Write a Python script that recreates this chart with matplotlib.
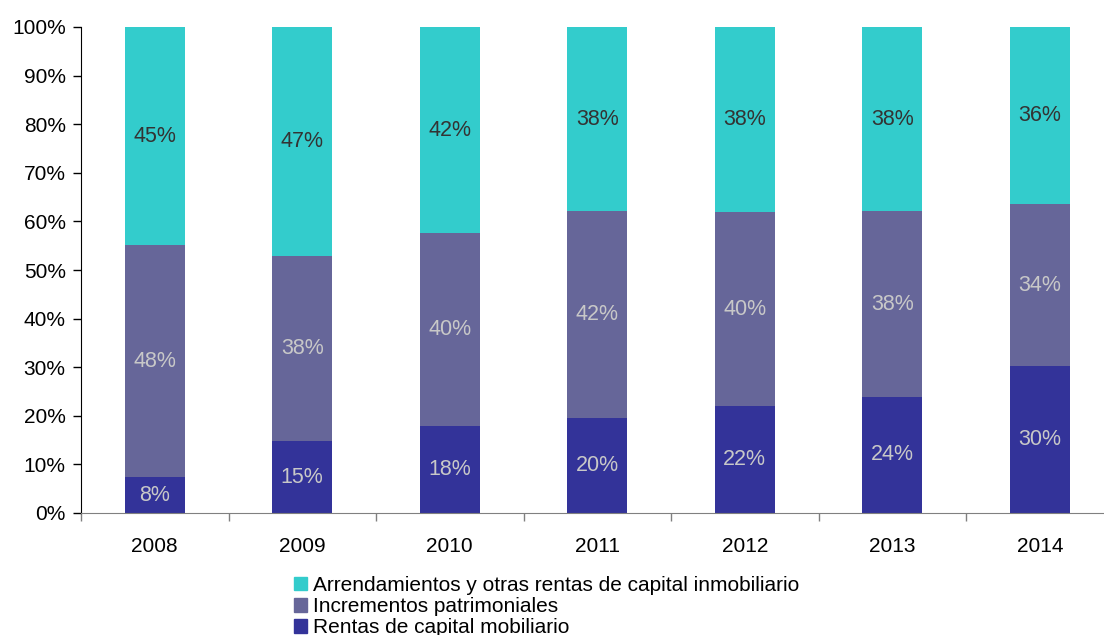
import numpy as np
import matplotlib.pyplot as plt
from matplotlib.patches import Patch
from matplotlib.ticker import PercentFormatter

plt.rcParams['font.family'] = ['Liberation Sans', 'DejaVu Sans']

# === Data (shares in %) ===
years = ['2008', '2009', '2010', '2011', '2012', '2013', '2014']
rentas_mobiliario = [7.4, 14.8, 17.9, 19.5, 22.0, 23.9, 30.2]
incrementos = [47.7, 38.1, 39.7, 42.6, 39.9, 38.2, 33.4]
arrendamientos = [44.9, 47.1, 42.4, 37.9, 38.1, 37.9, 36.4]

lbl_mobiliario = ['8%', '15%', '18%', '20%', '22%', '24%', '30%']
lbl_incrementos = ['48%', '38%', '40%', '42%', '40%', '38%', '34%']
lbl_arrend = ['45%', '47%', '42%', '38%', '38%', '38%', '36%']

series = [
    ('Rentas de capital mobiliario', rentas_mobiliario, lbl_mobiliario, '#333399', '#c8c8c8'),
    ('Incrementos patrimoniales', incrementos, lbl_incrementos, '#666699', '#c8c8c8'),
    ('Arrendamientos y otras rentas de capital inmobiliario', arrendamientos, lbl_arrend, '#33cccc', '#333333'),
]

# === Plot ===
fig = plt.figure(figsize=(11.04, 6.35), dpi=100)
# plot area runs a little past the right edge of the picture, as in the original
ax = fig.add_axes([81 / 1104, 1 - 513 / 635, 7 * 147.5 / 1104, (513 - 27) / 635])

x = np.arange(len(years))
bottom = np.zeros(len(years))
for name, vals, lbls, color, tcolor in series:
    vals = np.array(vals)
    ax.bar(x, vals, bottom=bottom, width=0.41, color=color, label=name)
    for xi, b, v, t in zip(x, bottom, vals, lbls):
        ax.text(xi, b + v / 2, t, ha='center', va='center', fontsize=15.5, color=tcolor)
    bottom += vals

# === Styling ===
ax.set_xlim(-0.5, len(years) - 0.5)
ax.set_ylim(0, 100)
ax.set_yticks(range(0, 101, 10))
ax.yaxis.set_major_formatter(PercentFormatter(decimals=0))
ax.tick_params(axis='y', labelsize=15, length=6, width=1, pad=5, colors='black')

ax.set_xticks(x)
ax.set_xticklabels(years)
ax.set_xticks(np.arange(-0.5, len(years), 1), minor=True)
ax.tick_params(axis='x', which='major', length=0, labelsize=15, pad=17)
ax.tick_params(axis='x', which='minor', length=6, width=1, color='#808080')

for s in ['top', 'right']:
    ax.spines[s].set_visible(False)
ax.spines['left'].set_color('black')
ax.spines['bottom'].set_color('#808080')

handles = [Patch(color=c) for _, _, _, c, _ in series][::-1]
names = [n for n, _, _, _, _ in series][::-1]
fig.legend(handles, names, loc='upper left', bbox_to_anchor=(294 / 1104, 1 - 576 / 635),
           frameon=False, fontsize=15, handlelength=0.62, handleheight=0.62,
           handletextpad=0.3, labelspacing=0.1, borderpad=0, borderaxespad=0)

fig.savefig('out.png', dpi=100)
